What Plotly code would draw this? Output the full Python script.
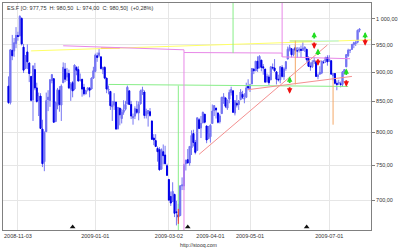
import math
import pandas as pd
import plotly.graph_objects as go

# ---------------- data ----------------
holidays = ["2008-11-27", "2008-12-25", "2009-01-01", "2009-01-19", "2009-02-16",
            "2009-04-10", "2009-05-25", "2009-07-03"]
calendar = [d.strftime("%Y-%m-%d") for d in pd.bdate_range("2008-10-27", "2009-08-14")
            if d.strftime("%Y-%m-%d") not in holidays]

opens = [
    876, 848, 940, 939, 953,
    968, 967, 1001, 946, 907, 937, 917, 893, 853, 905, 873, 852, 859, 805, 755, 801, 853, 852, 886,
    889, 817, 843, 869, 844, 882, 906, 892, 898, 871, 882, 871, 909, 905, 886, 888, 874, 863, 870, 873, 871, 890,
    902, 930, 931, 928, 905, 909, 890, 869, 867, 841, 844, 849, 806, 839, 822, 832, 837, 846, 868, 845,
    823, 826, 837, 831, 846, 868, 866, 827, 830, 833, 818, 791, 787, 775, 773, 744, 770, 765, 749,
    729, 705, 698, 708, 684, 680, 679, 720, 720, 752, 758, 753, 776, 798, 784, 772, 820, 807, 815, 829, 810, 790,
    793, 814, 835, 839, 831, 817, 830, 855, 856, 839, 854, 865, 868, 831, 847, 845, 853, 862, 854, 857, 876,
    872, 880, 906, 903, 920, 910, 922, 910, 906, 884, 892, 887, 909, 908, 901, 888, 887, 909, 893, 907,
    924, 942, 943, 932, 945, 939, 940, 942, 940, 943, 942, 925, 911, 910, 919, 919, 893, 897, 899, 918, 920, 927,
    920, 921, 894, 898, 881, 881, 880, 879, 900, 910, 930, 940, 942, 951, 953, 955, 977.75,
]
highs = [
    893, 941, 969, 963, 984,
    975, 1007, 1003, 952, 931, 951, 917, 893, 913, 917, 882, 865, 864, 820, 801, 865, 869, 887, 896,
    889, 850, 873, 876, 879, 918, 917, 908, 905, 883, 885, 914, 911, 911, 898, 888, 880, 870, 874, 873, 891, 910,
    934, 936, 943, 928, 910, 911, 890, 877, 867, 851, 864, 849, 841, 839, 838, 852, 851, 877, 868, 851,
    830, 842, 851, 850, 870, 875, 869, 838, 835, 839, 818, 797, 797, 778, 777, 775, 781, 779, 752,
    729, 712, 725, 708, 699, 695, 720, 732, 752, 758, 774, 778, 803, 804, 788, 823, 823, 826, 833, 829, 810, 810,
    813, 845, 843, 839, 831, 829, 857, 864, 856, 853, 870, 875, 868, 850, 861, 852, 871, 868, 864, 882, 888,
    880, 907, 907, 920, 929, 931, 922, 915, 906, 898, 896, 910, 916, 924, 901, 896, 911, 913, 909, 920,
    947, 950, 943, 942, 951, 946, 946, 949, 956, 947, 942, 929, 918, 922, 927, 919, 898, 911, 921, 922, 928, 931,
    931, 921, 898, 898, 886, 887, 884, 901, 905, 933, 943, 942, 951, 956, 959, 979, 980.5,
]
lows = [
    846, 845, 922, 928, 944,
    958, 967, 949, 899, 906, 906, 883, 850, 818, 869, 848, 826, 806, 747, 741, 801, 834, 841, 881,
    815, 817, 837, 833, 818, 882, 883, 885, 871, 851, 857, 869, 895, 884, 884, 858, 860, 862, 867, 857, 871, 889,
    900, 919, 927, 905, 897, 888, 864, 862, 836, 818, 836, 805, 804, 811, 814, 828, 835, 846, 844, 821,
    812, 821, 829, 819, 845, 861, 822, 822, 809, 825, 789, 780, 777, 755, 742, 744, 751, 751, 734,
    699, 692, 698, 677, 666, 672, 679, 714, 714, 742, 753, 749, 765, 778, 766, 772, 805, 791, 815, 814, 783, 790,
    784, 814, 826, 822, 814, 814, 830, 846, 839, 836, 847, 860, 832, 827, 840, 836, 853, 854, 847, 857, 869,
    866, 880, 897, 903, 901, 907, 902, 896, 882, 882, 878, 887, 905, 901, 879, 884, 881, 891, 887, 903,
    924, 938, 927, 929, 934, 926, 936, 927, 939, 937, 919, 911, 903, 908, 915, 892, 888, 897, 897, 915, 917, 912,
    920, 896, 886, 879, 869, 878, 874, 875, 896, 910, 928, 935, 941, 944, 948, 953, 974,
]
closes = [
    848, 941, 930, 954, 968,
    966, 1005, 952, 904, 930, 919, 898, 852, 911, 873, 850, 859, 806, 752, 800, 851, 857, 887, 896,
    816, 848, 870, 845, 876, 909, 888, 899, 873, 879, 868, 913, 904, 885, 887, 871, 863, 868, 873, 869, 890, 903,
    931, 927, 935, 907, 909, 890, 871, 871, 843, 844, 850, 805, 840, 828, 832, 836, 845, 874, 845, 826,
    825, 838, 832, 845, 868, 870, 827, 833, 835, 827, 789, 788, 778, 770, 743, 773, 764, 752, 735,
    700, 696, 712, 682, 683, 677, 720, 721, 750, 757, 753, 778, 795, 784, 769, 823, 806, 814, 832, 816, 788, 798,
    811, 834, 843, 836, 816, 826, 857, 858, 842, 852, 865, 870, 832, 851, 844, 851, 866, 857, 855, 873, 873,
    878, 907, 903, 920, 907, 929, 909, 908, 883, 893, 882, 910, 908, 903, 888, 887, 910, 893, 906, 919,
    942, 945, 932, 942, 940, 939, 942, 940, 944, 946, 923, 911, 910, 918, 921, 893, 895, 900, 920, 918, 927, 919,
    923, 897, 898, 881, 879, 882, 879, 901, 905, 932, 940, 940, 951, 954, 954, 977.75, 980.5,
]
dates = calendar[:len(closes)]

tick_dates = ["2008-11-03", "2009-01-02", "2009-03-02", "2009-04-01", "2009-05-01", "2009-07-01"]
tick_labels = ["2008-11-03", "2009-01-01", "2009-03-02", "2009-04-01", "2009-05-01", "2009-07-01"]
price_ticks = [700, 750, 800, 850, 900, 950, 1000]
price_labels = ["700,00", "750,00", "800,00", "850,00", "900,00", "950,00", "1 000,00"]

# drawn studies (dates, prices)
yellow_dates = ["2008-11-12", "2009-08-03"]
yellow_prices = [939, 959.6]
pink_dates = ["2008-12-08", "2009-02-11", "2009-03-12", "2009-03-12", "2009-05-27", "2009-05-27", "2009-07-17"]
pink_prices = [948.5, 944, 941, 936, 935, 928, 924.6]
green_dates = ["2009-01-13", "2009-07-16"]
green_prices = [879, 875.5]
salmon1_dates = ["2009-03-24", "2009-06-30"]
salmon1_prices = [766, 950]
salmon2_dates = ["2009-04-30", "2009-07-20"]
salmon2_prices = [870, 893]
orange_seg_dates = ["2009-01-07", "2009-01-22"]
orange_seg_prices = [944.5, 944.5]
lime_seg_dates = ["2009-06-02", "2009-06-18"]
lime_seg_prices = [957.5, 957.5]
cyan_seg_dates = ["2009-06-18", "2009-07-09"]
cyan_seg_prices = [957.5, 957.5]
vlines = [  # date, price from, price to, colour
    ("2009-03-09", 877, 600, "#88ee88"),
    ("2009-03-12", 936, 600, "#e888e8"),
    ("2009-04-20", 1100, 935, "#88ee88"),
    ("2009-05-27", 1100, 928, "#e888e8"),
    ("2009-06-05", 958, 879, "#f4a868"),
    ("2009-07-06", 887, 812, "#f4a868"),
    ("2009-03-09", 688, 668, "#ff3030"),
]
up_dates = ["2009-06-02", "2009-06-19", "2009-06-23", "2009-07-15", "2009-07-29"]
up_prices = [886, 967, 936, 900, 967]
down_dates = ["2009-06-02", "2009-06-19", "2009-06-23", "2009-07-15", "2009-07-29"]
down_prices = [870, 950, 919, 882, 956]
roll_dates = ["2008-12-15", "2009-03-16", "2009-06-15"]
roll_level = 664

# ---------------- figure ----------------
pos = {d: i for i, d in enumerate(calendar)}
X = lambda ds: [pos[d] for d in ds]
LIGHT, DARK = "#7676f2", "#0000e8"

fig = go.Figure()
# full range (wicks) in light blue
fig.add_trace(go.Candlestick(
    x=X(dates), open=opens, high=highs, low=lows, close=closes,
    increasing=dict(line=dict(color=LIGHT, width=1), fillcolor=LIGHT),
    decreasing=dict(line=dict(color=LIGHT, width=1), fillcolor=LIGHT),
    whiskerwidth=0, hoverinfo="skip", showlegend=False))
# bodies: dark for falling sessions
fig.add_trace(go.Candlestick(
    x=X(dates), open=opens, close=closes,
    high=[max(o, c) for o, c in zip(opens, closes)],
    low=[min(o, c) for o, c in zip(opens, closes)],
    increasing=dict(line=dict(color=LIGHT, width=1), fillcolor=LIGHT),
    decreasing=dict(line=dict(color=DARK, width=1), fillcolor=DARK),
    whiskerwidth=0, hoverinfo="skip", showlegend=False))

def line(ds, ps, color, width=1, dash=None):
    fig.add_trace(go.Scatter(x=X(ds), y=ps, mode="lines",
                             line=dict(color=color, width=width, dash=dash),
                             hoverinfo="skip", showlegend=False))

line(yellow_dates, yellow_prices, "#ffff66")
line(orange_seg_dates, orange_seg_prices, "#f4a060")
line(lime_seg_dates, lime_seg_prices, "#a8e860")
line(cyan_seg_dates, cyan_seg_prices, "#a8f0f0")
line(pink_dates, pink_prices, "#e888e8")
line(green_dates, green_prices, "#88ee88")
line(salmon1_dates, salmon1_prices, "#f49090")
line(salmon2_dates, salmon2_prices, "#f49090")
for d, p0, p1, c in vlines:
    line([d, d], [p0, p1], c)

fig.add_trace(go.Scatter(x=X(roll_dates), y=[roll_level] * len(roll_dates), mode="markers",
                         marker=dict(symbol="triangle-up", size=5, color="#111111"),
                         cliponaxis=False, hoverinfo="skip", showlegend=False))

annotations = []
for d, p in zip(up_dates, up_prices):
    annotations.append(dict(x=pos[d], y=math.log10(p), xref="x", yref="y", text="",
                            showarrow=True, arrowhead=2, arrowsize=0.6, arrowwidth=1.8,
                            arrowcolor="#22dd22", ax=0, ay=8, yshift=4))
for d, p in zip(down_dates, down_prices):
    annotations.append(dict(x=pos[d], y=math.log10(p), xref="x", yref="y", text="",
                            showarrow=True, arrowhead=2, arrowsize=0.6, arrowwidth=1.8,
                            arrowcolor="#ee1111", ax=0, ay=-8, yshift=-4))

nov3 = pos["2008-11-03"]
font = "Liberation Sans, Arial, sans-serif"
annotations += [
    dict(text="ES.F [O: 977,75  H: 980,50  L: 974,00  C: 980,50]  (+0,28%)",
         xref="paper", yref="paper", x=0, y=1, xanchor="left", yanchor="top",
         xshift=2, yshift=0, showarrow=False, font=dict(size=5.5, color="#333333")),
    dict(text="http://stooq.com", xref="paper", yref="paper", x=0.532, y=-0.066,
         xanchor="center", yanchor="middle", showarrow=False,
         font=dict(size=5.2, color="#333333")),
]
fig.update_layout(
    width=400, height=250, margin=dict(l=2, r=28, t=3, b=20),
    paper_bgcolor="white", plot_bgcolor="white",
    font=dict(family=font, size=5.5, color="#333333"),
    xaxis=dict(range=[nov3 - 7.9, nov3 + 187.1], tickvals=X(tick_dates), ticktext=tick_labels,
               showgrid=True, gridcolor="#e6e6e6", gridwidth=1, zeroline=False,
               showline=True, mirror=True, linecolor="#808080", linewidth=1,
               ticks="", tickfont=dict(size=5.5, color="#333333"),
               rangeslider=dict(visible=False), fixedrange=True),
    yaxis=dict(type="log", range=[math.log10(660), math.log10(1031.8)], side="right",
               tickvals=price_ticks, ticktext=price_labels,
               showgrid=True, gridcolor="#e6e6e6", gridwidth=1, zeroline=False,
               showline=True, mirror=True, linecolor="#808080", linewidth=1,
               ticks="outside", ticklen=3, tickcolor="#808080",
               tickfont=dict(size=5.5, color="#333333"), fixedrange=True),
    annotations=annotations,
)
fig.write_html("out.html")
